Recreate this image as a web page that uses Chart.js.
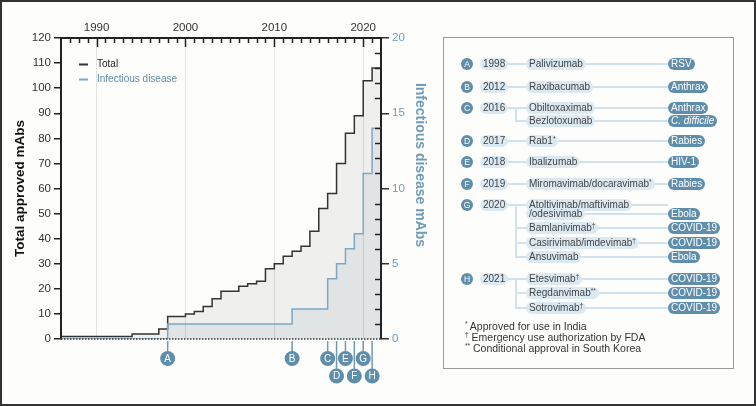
<!DOCTYPE html>
<html>
<head>
<meta charset="utf-8">
<script src="https://cdn.jsdelivr.net/npm/chart.js@4"></script>
<style>
  html, body { margin:0; padding:0; }
  body { width:756px; height:406px; background:#fdfdfb; font-family:"Liberation Sans", Arial, sans-serif; position:relative; overflow:hidden; }
  #chartWrap { position:absolute; left:0; top:0; width:440px; height:406px; }
  #frame { position:absolute; left:0; top:0; width:752px; height:402px; border:2px solid #333; pointer-events:none; }
  #box { position:absolute; left:443px; top:37px; width:289px; height:330px; border:1px solid #9a9a9a; }
  #panel { position:absolute; left:0; top:0; width:756px; height:406px; }
  .ln { position:absolute; background:#cfe2ee; }
  .pill { position:absolute; height:12px; line-height:12px; border-radius:6px; padding:0 3px; font-size:10px; white-space:nowrap; }
  .yr, .nm { background:#dbe9f3; color:#444; }
  .tg { background:#5f8eab; color:#fff; }
  .dot { position:absolute; width:12px; height:12px; border-radius:6px; background:#5f8eab; color:#fff; font-size:8.5px; line-height:12px; text-align:center; }
  .note { position:absolute; left:465px; font-size:10.5px; color:#333; white-space:nowrap; }
  sup { font-size:6.5px; vertical-align:top; line-height:8px; }
</style>
</head>
<body>
<div id="chartWrap"><canvas id="chart" width="440" height="406"></canvas></div>
<div id="box"></div>
<div id="panel"></div>
<div id="frame"></div>
<script>
// data ----------------------------------------------------------
const years = [1986,1987,1988,1989,1990,1991,1992,1993,1994,1995,1996,1997,1998,1999,2000,2001,2002,2003,
               2004,2005,2006,2007,2008,2009,2010,2011,2012,2013,2014,2015,2016,2017,2018,2019,2020,2021];
const totalMabs = [1,1,1,1,1,1,1,1,2,2,2,4,9,9,10,11,13,16,19,19,21,22,23,28,30,33,35,37,43,52,58,70,82,89,103,108];
const infectiousMabs = [0,0,0,0,0,0,0,0,0,0,0,0,1,1,1,1,1,1,1,1,1,1,1,1,1,1,2,2,2,2,4,5,6,7,11,14];
const seriesNames = ["Total", "Infectious disease"];

const eventLetters = ["A","B","C","D","E","F","G","H"];
const eventYears   = [1998, 2012, 2016, 2017, 2018, 2019, 2020, 2021];
const mabNames = [
  ["Palivizumab"],
  ["Raxibacumab"],
  ["Obiltoxaximab", "Bezlotoxumab"],
  ["Rab1*"],
  ["Ibalizumab"],
  ["Miromavimab/docaravimab*"],
  ["Atoltivimab/maftivimab\n/odesivimab", "Bamlanivimab†", "Casirivimab/imdevimab†", "Ansuvimab"],
  ["Etesvimab†", "Regdanvimab**", "Sotrovimab†"]
];
const mabTargets = [
  ["RSV"], ["Anthrax"], ["Anthrax", "C. difficile"], ["Rabies"], ["HIV-1"], ["Rabies"],
  ["Ebola", "COVID-19", "COVID-19", "Ebola"],
  ["COVID-19", "COVID-19", "COVID-19"]
];
const italicTargets = ["C. difficile"];
const footnotes = ["* Approved for use in India", "† Emergency use authorization by FDA", "** Conditional approval in South Korea"];

// layout (not data) ---------------------------------------------
const xMin = 1986, xMax = 2022;
const markerRow = [0,0,0,1,0,1,0,1];
const itemY = [[64],[87],[108,121],[141],[162],[184],[205,228,243,257],[279,293,308]];
const noteY = [327, 338, 349];
const BLUE = "#6f9cb8", DARK = "#222";
const FONT = "'Liberation Sans', Arial, sans-serif";

// step points, last value held to the axis end
function steps(vals) {
  const pts = years.map((yr, i) => ({ x: yr, y: vals[i] }));
  pts.push({ x: xMax, y: vals[vals.length - 1] });
  return pts;
}

// extra decorations: inward ticks, baseline, legend, markers ----
const extras = {
  id: "extras",
  afterDraw(chart) {
    const { ctx, chartArea: a, scales } = chart;
    const x = scales.x, y2 = scales.y2;
    ctx.save();

    // dotted zero line
    ctx.strokeStyle = "#333"; ctx.lineWidth = 1.5; ctx.setLineDash([1.5, 1.5]);
    ctx.beginPath(); ctx.moveTo(a.left, a.bottom); ctx.lineTo(a.right, a.bottom); ctx.stroke();
    ctx.setLineDash([]);

    // year ticks pointing down from the top axis
    ctx.strokeStyle = DARK; ctx.lineWidth = 1.5;
    for (let yr = xMin + 1; yr < xMax; yr++) {
      const px = Math.round(x.getPixelForValue(yr)) + 0.5;
      const len = yr % 10 === 0 ? 9 : 5;
      ctx.beginPath(); ctx.moveTo(px, a.top); ctx.lineTo(px, a.top + len); ctx.stroke();
    }
    // minor ticks pointing in from the right axis
    for (let v = 1; v < 20; v++) {
      if (v % 5 === 0) continue;
      const py = Math.round(y2.getPixelForValue(v)) + 0.5;
      ctx.beginPath(); ctx.moveTo(a.right, py); ctx.lineTo(a.right - 6, py); ctx.stroke();
    }

    // right axis title
    ctx.save();
    ctx.translate(419.5, 165);
    ctx.rotate(Math.PI / 2);
    ctx.fillStyle = BLUE;
    ctx.font = "bold 14px " + FONT;
    ctx.textAlign = "center"; ctx.textBaseline = "middle";
    ctx.fillText("Infectious disease mAbs", 0, 0);
    ctx.restore();

    // legend
    ctx.font = "10px " + FONT;
    ctx.textBaseline = "middle"; ctx.textAlign = "left";
    chart.data.datasets.slice().sort((p, q) => p.legendIndex - q.legendIndex).forEach((ds, i) => {
      const ly = 64.5 + i * 15;
      ctx.strokeStyle = ds.borderColor; ctx.lineWidth = 2;
      ctx.beginPath(); ctx.moveTo(79, ly); ctx.lineTo(88, ly); ctx.stroke();
      ctx.fillStyle = ds.legendText;
      ctx.fillText(ds.label, 97, ly);
    });

    // event markers under the axis
    eventYears.forEach((yr, i) => {
      const px = x.getPixelForValue(yr);
      const cy = markerRow[i] ? 376 : 358.5;
      ctx.strokeStyle = "#6d9ab5"; ctx.lineWidth = 1.5;
      ctx.beginPath(); ctx.moveTo(px, a.bottom + 2); ctx.lineTo(px, cy); ctx.stroke();
      ctx.fillStyle = "#5f8eab";
      ctx.beginPath(); ctx.arc(px, cy, 7.5, 0, Math.PI * 2); ctx.fill();
      ctx.fillStyle = "#fff";
      ctx.font = "10px " + FONT;
      ctx.textAlign = "center";
      ctx.fillText(eventLetters[i], px, cy + 0.5);
    });
    ctx.restore();
  }
};

new Chart(document.getElementById("chart"), {
  type: "line",
  data: {
    datasets: [
      {
        label: seriesNames[0], legendIndex: 0, legendText: "#222",
        data: steps(totalMabs), yAxisID: "y", stepped: true, order: 2,
        borderColor: "#333", borderWidth: 1.5, backgroundColor: "rgba(0,0,0,0.055)",
        fill: "origin", pointRadius: 0
      },
      {
        label: seriesNames[1], legendIndex: 1, legendText: "#5f8aa6",
        data: steps(infectiousMabs), yAxisID: "y2", stepped: true, order: 1,
        borderColor: "#7ca8c3", borderWidth: 1.5, backgroundColor: "rgba(90,130,160,0.1)",
        fill: "origin", pointRadius: 0
      }
    ]
  },
  options: {
    responsive: false,
    animation: false,
    layout: { padding: { left: 0, right: 0, top: 0, bottom: 67 } },
    plugins: { legend: { display: false }, tooltip: { enabled: false } },
    scales: {
      x: {
        type: "linear", position: "top", min: xMin, max: xMax,
        ticks: { stepSize: 1, autoSkip: false, maxRotation: 0, padding: 3,
                 callback: v => v % 10 === 0 ? v : "",
                 color: "#333", font: { size: 11.5, family: FONT } },
        grid: { drawTicks: false, lineWidth: 1,
                color: c => c.tick && c.tick.value % 10 === 0 ? "#e2e2e2" : "rgba(0,0,0,0)" },
        border: { display: true, color: DARK, width: 2 },
        afterFit: s => { s.height = 38; }
      },
      y: {
        position: "left", min: 0, max: 120,
        ticks: { stepSize: 10, padding: 3, color: "#333", font: { size: 11.5, family: FONT } },
        grid: { drawOnChartArea: false, tickLength: 7, color: DARK, lineWidth: 1.5 },
        border: { color: DARK, width: 2 },
        title: { display: true, text: "Total approved mAbs", color: "#111",
                 font: { size: 13.5, weight: "bold", family: FONT },
                 padding: { top: 12, bottom: 0 } },
        afterFit: s => { s.width = 61; }
      },
      y2: {
        position: "right", min: 0, max: 20,
        ticks: { stepSize: 1, autoSkip: false, padding: 3,
                 callback: v => v % 5 === 0 ? v : "",
                 color: BLUE, font: { size: 11.5, family: FONT } },
        grid: { drawOnChartArea: false, tickLength: 8, lineWidth: 1.5,
                color: c => c.tick && c.tick.value % 5 === 0 ? "#333" : "rgba(0,0,0,0)" },
        border: { color: DARK, width: 2 },
        afterFit: s => { s.width = 59; }
      }
    }
  },
  plugins: [extras]
});

// side panel ----------------------------------------------------
const panel = document.getElementById("panel");
function add(cls, html, left, top, w, h) {
  const d = document.createElement("div");
  d.className = cls;
  d.innerHTML = html;
  d.style.left = left + "px";
  d.style.top = top + "px";
  if (w != null) d.style.width = w + "px";
  if (h != null) d.style.height = h + "px";
  panel.appendChild(d);
  return d;
}
const supMarks = s => s.replace(/([*†]+)/g, "<sup>$1</sup>");

// connector lines first so pills sit on top
eventLetters.forEach((L, i) => {
  const ys = itemY[i];
  add("ln", "", 505, ys[0] - 1, 163, 2);
  if (ys.length > 1) {
    add("ln", "", 515, ys[0], 2, ys[ys.length - 1] - ys[0] + 1);
    ys.slice(1).forEach(y => add("ln", "", 515, y - 1, 153, 2));
  }
  mabNames[i].forEach((n, k) => {
    if (n.includes("\n")) add("ln", "", 540, ys[k] + 8, 128, 2);
  });
});
eventLetters.forEach((L, i) => {
  const ys = itemY[i];
  add("dot", L, 461, ys[0] - 6);
  add("pill yr", eventYears[i], 480, ys[0] - 6);
  mabNames[i].forEach((n, k) => {
    const parts = n.split("\n");
    // a two-line name is two stacked pills
    parts.forEach((p, j) => add("pill nm", supMarks(p), 526, ys[k] - 6 + j * 9));
    const t = mabTargets[i][k];
    add("pill tg", italicTargets.includes(t) ? "<i>" + t + "</i>" : t, 668, ys[k] - 6 + (parts.length - 1) * 9);
  });
});
footnotes.forEach((f, i) => {
  add("note", f.replace(/^([*†]+)/, "<sup>$1</sup>"), 465, noteY[i] - 7);
});
</script>
</body>
</html>
